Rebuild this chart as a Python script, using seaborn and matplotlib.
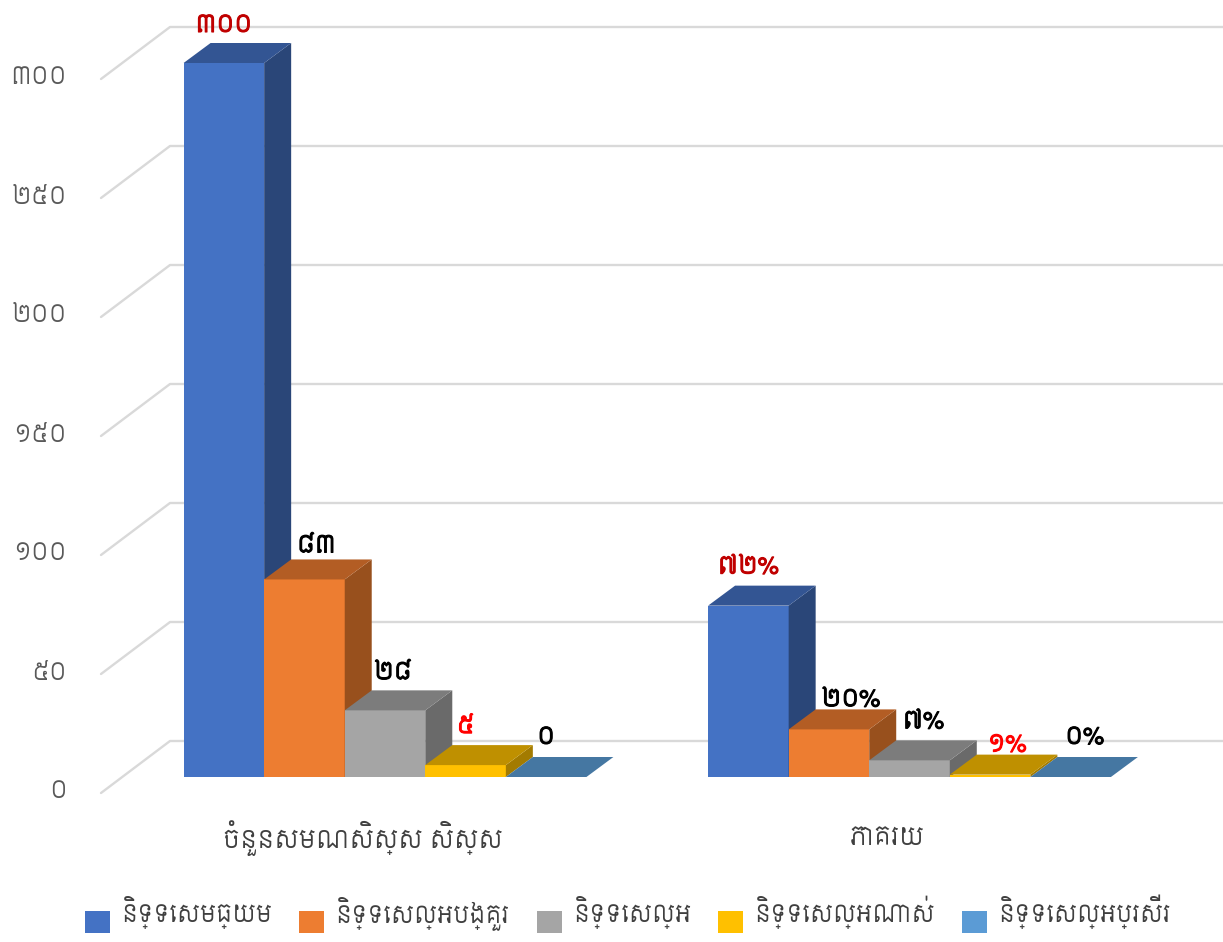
import matplotlib
matplotlib.use("Agg")
import matplotlib.pyplot as plt
import matplotlib.patheffects as pe
from matplotlib.patches import Polygon
from matplotlib.transforms import ScaledTranslation
import pandas as pd
import seaborn as sns

# chart values
CATEGORIES = ["ចំនួនសមណសិស្ស សិស្ស", "ភាគរយ"]
GRADES = ["និទ្ទេសមធ្យម", "និទ្ទេសល្អបង្គួរ", "និទ្ទេសល្អ", "និទ្ទេសល្អណាស់", "និទ្ទេសល្អប្រសើរ"]
STUDENTS = [300, 83, 28, 5, 0]
PERCENT = [72, 20, 7, 1, 0]
STUDENT_LABELS = ["៣០០", "៨៣", "២៨", "៥", "០"]
PERCENT_LABELS = ["៧២%", "២០%", "៧%", "១%", "០%"]
Y_TICKS = [0, 50, 100, 150, 200, 250, 300]
Y_TICK_LABELS = ["០", "៥០", "១០០", "១៥០", "២០០", "២៥០", "៣០០"]

# front, top and side face colours for each series
FRONT = ["#4472C4", "#ED7D31", "#A5A5A5", "#FFC000", "#5B9BD5"]
TOP = ["#335593", "#B35D24", "#7C7C7C", "#BF9000", "#4577A2"]
SIDE = ["#2A4678", "#98501D", "#6A6A6A", "#A37B00", "#3B6588"]
LABEL_COLORS = ["#C00000", "black", "black", "#FF0000", "black"]

# label offsets from the bar's top centre, in pixels
STUDENT_OFFSETS = [(0, 38), (12, 34), (8, 38), (0, 39), (0, 40)]
PERCENT_OFFSETS = [(0, 39), (22, 30), (14, 39), (17, 30), (14, 40)]

WIDTH, HEIGHT = 1223, 942
LEFT, BOTTOM = 70, 795  # axes corners in pixels
ZERO_Y = 777  # pixel row of value 0 on the bar fronts
PX_PER_UNIT = 2.38
PX_PER_CAT = 524.5
FIRST_CAT_X = 385
DEPTH_X = 27 / PX_PER_CAT
DEPTH_Y = 20 / PX_PER_UNIT

sns.set_theme(style="white")
plt.rcParams["font.family"] = ["Siemreap", "DejaVu Sans"]

df = pd.DataFrame(
    {
        "category": [c for c in CATEGORIES for _ in GRADES],
        "grade": GRADES * 2,
        "value": STUDENTS + PERCENT,
    }
)

fig = plt.figure(figsize=(WIDTH / 100, HEIGHT / 100), dpi=100)
ax = fig.add_axes(
    [LEFT / WIDTH, 1 - BOTTOM / HEIGHT, 1 - LEFT / WIDTH, BOTTOM / HEIGHT]
)

sns.barplot(
    data=df,
    x="category",
    y="value",
    hue="grade",
    palette=FRONT,
    width=0.768,
    gap=0,
    saturation=1,
    linewidth=0,
    ax=ax,
)

ax.set_xlim((LEFT - FIRST_CAT_X) / PX_PER_CAT, (WIDTH - FIRST_CAT_X) / PX_PER_CAT)
ax.set_ylim((ZERO_Y - BOTTOM) / PX_PER_UNIT, ZERO_Y / PX_PER_UNIT)
ax.set_xlabel("")
ax.set_ylabel("")
sns.despine(ax=ax, left=True, bottom=True)


def px_x(px):
    return (px - FIRST_CAT_X) / PX_PER_CAT


# back wall gridlines and the slanted side wall lines
for v in Y_TICKS:
    ax.plot(
        [px_x(101), px_x(170), px_x(WIDTH)],
        [v - 16 / PX_PER_UNIT, v + 36 / PX_PER_UNIT, v + 36 / PX_PER_UNIT],
        color="#D9D9D9",
        linewidth=1.7,
        zorder=0,
        clip_on=False,
    )

# depth faces on every bar, then its value label
for s, container in enumerate(ax.containers):
    labels = [STUDENT_LABELS[s], PERCENT_LABELS[s]]
    offsets = [STUDENT_OFFSETS[s], PERCENT_OFFSETS[s]]
    for c, bar in enumerate(container):
        z = 2 + s + c * 10
        x0, x1 = bar.get_x(), bar.get_x() + bar.get_width()
        h = bar.get_height()
        bar.set_zorder(z)
        ax.add_patch(
            Polygon(
                [(x1, 0), (x1 + DEPTH_X, DEPTH_Y), (x1 + DEPTH_X, h + DEPTH_Y), (x1, h)],
                facecolor=SIDE[s],
                linewidth=0,
                zorder=z,
            )
        )
        ax.add_patch(
            Polygon(
                [(x0, h), (x0 + DEPTH_X, h + DEPTH_Y), (x1 + DEPTH_X, h + DEPTH_Y), (x1, h)],
                facecolor=TOP[s],
                linewidth=0,
                zorder=z,
            )
        )
        ax.annotate(
            labels[c],
            xy=((x0 + x1) / 2, h),
            xytext=offsets[c],
            textcoords="offset pixels",
            ha="center",
            va="center",
            fontsize=17,
            color=LABEL_COLORS[s],
            zorder=50,
            path_effects=[pe.withStroke(linewidth=0.8, foreground=LABEL_COLORS[s])],
        )

# axis labels
ax.set_yticks(Y_TICKS, Y_TICK_LABELS)
ax.tick_params(axis="y", length=0, pad=2.2, labelsize=17, labelcolor="#595959")
ax.tick_params(axis="x", length=0, pad=31, labelsize=18, labelcolor="#404040")
for label in ax.get_yticklabels():
    label.set_transform(
        label.get_transform() + ScaledTranslation(0, -12 / 100, fig.dpi_scale_trans)
    )
for label in ax.get_xticklabels():
    label.set_verticalalignment("center")
    label.set_transform(
        label.get_transform() + ScaledTranslation(-22 / 100, 0, fig.dpi_scale_trans)
    )

sns.move_legend(
    ax,
    "lower center",
    bbox_to_anchor=(0.5135, 0.004),
    bbox_transform=fig.transFigure,
    ncol=5,
    title=None,
    frameon=False,
    fontsize=17,
    borderaxespad=0,
    borderpad=0,
    handlelength=1.06,
    handleheight=1.06,
    handletextpad=0.47,
    columnspacing=1.15,
)
for text in ax.get_legend().get_texts():
    text.set_color("#404040")
    text.set_y(8)  # legend text sits above the middle of its swatch

fig.savefig("out.png", dpi=100)
plt.close(fig)
